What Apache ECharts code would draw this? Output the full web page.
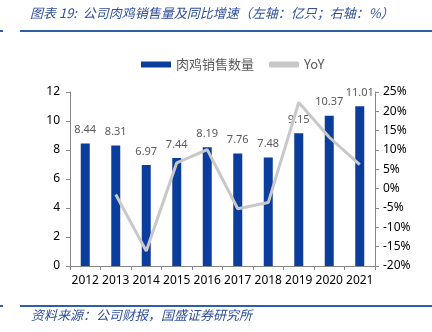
<!DOCTYPE html>
<html><head><meta charset="utf-8">
<script src="https://cdn.jsdelivr.net/npm/echarts@6/dist/echarts.min.js"></script>
<style>html,body{margin:0;padding:0;background:#fff}#c{width:432px;height:332px}</style>
</head><body><div id="c"></div>
<script>
const years = ['2012','2013','2014','2015','2016','2017','2018','2019','2020','2021'];
const sales = [8.44, 8.31, 6.97, 7.44, 8.19, 7.76, 7.48, 9.15, 10.37, 11.01];
const yoy = [null, -1.5, -16.1, 6.7, 10.1, -5.2, -3.6, 22.3, 13.3, 6.2];
const leftTicks = [0, 12, 2];
const rightTicks = [-20, 25, 5];
const titleText = '图表 19:  公司肉鸡销售量及同比增速（左轴：亿只；右轴：%）';
const sourceText = '资料来源：公司财报，国盛证券研究所';

const chart = echarts.init(document.getElementById('c'));
const axisLine = {show:true, lineStyle:{color:'#868686', width:1}};
chart.setOption({
  animation:false,
  textStyle:{fontFamily:'"Noto Sans", "Noto Sans CJK SC", sans-serif'},
  grid:{left:70, right:57, top:92, bottom:66},
  legend:{
    top:53, left:136, itemGap:15, itemWidth:30, itemHeight:6,
    textStyle:{color:'#595959', fontSize:13, fontFamily:'"Noto Sans CJK SC", sans-serif'},
    data:[{name:'肉鸡销售数量', icon:'rect'}, {name:'YoY', icon:'roundRect'}]
  },
  xAxis:{
    type:'category', data:years,
    axisLine:axisLine,
    axisTick:{show:true, alignWithLabel:false, length:4, lineStyle:{color:'#868686'}},
    axisLabel:{color:'#000', fontSize:12, margin:9, interval:0}
  },
  yAxis:[{
    type:'value', min:leftTicks[0], max:leftTicks[1], interval:leftTicks[2],
    axisLine:axisLine, splitLine:{show:false},
    axisTick:{show:true, length:4, lineStyle:{color:'#868686'}},
    axisLabel:{color:'#000', fontSize:12, margin:10}
  },{
    type:'value', min:rightTicks[0], max:rightTicks[1], interval:rightTicks[2],
    axisLine:axisLine, splitLine:{show:false},
    axisTick:{show:true, length:4, lineStyle:{color:'#868686'}},
    axisLabel:{color:'#000', fontSize:12, margin:8, formatter:'{value}%'}
  }],
  series:[{
    name:'肉鸡销售数量', type:'bar', data:sales, barWidth:9,
    itemStyle:{color:'#0b3d9c'},
    label:{show:true, position:'top', distance:8, color:'#595959', fontSize:11}
  },{
    name:'YoY', type:'line', yAxisIndex:1, data:yoy, symbol:'none',
    lineStyle:{color:'#c8c8c8', width:3}, itemStyle:{color:'#c8c8c8'}, z:3
  }],
  graphic:[
    {type:'text', left:30, top:7, style:{text:titleText, fill:'#2f4f9c', fontSize:13, fontStyle:'italic', fontFamily:'"Noto Sans CJK SC", sans-serif'}},
    {type:'line', shape:{x1:0,y1:31,x2:3,y2:31}, style:{stroke:'#2f5ea8', lineWidth:2}},
    {type:'line', shape:{x1:20,y1:31,x2:432,y2:31}, style:{stroke:'#2f5ea8', lineWidth:2}},
    {type:'line', shape:{x1:0,y1:306,x2:3,y2:306}, style:{stroke:'#2f5ea8', lineWidth:2}},
    {type:'line', shape:{x1:20,y1:306,x2:432,y2:306}, style:{stroke:'#2f5ea8', lineWidth:2}},
    {type:'text', left:31, top:309, style:{text:sourceText, fill:'#2f4f9c', fontSize:13, fontStyle:'italic', fontFamily:'"Noto Sans CJK SC", sans-serif'}}
  ]
});
</script></body></html>
